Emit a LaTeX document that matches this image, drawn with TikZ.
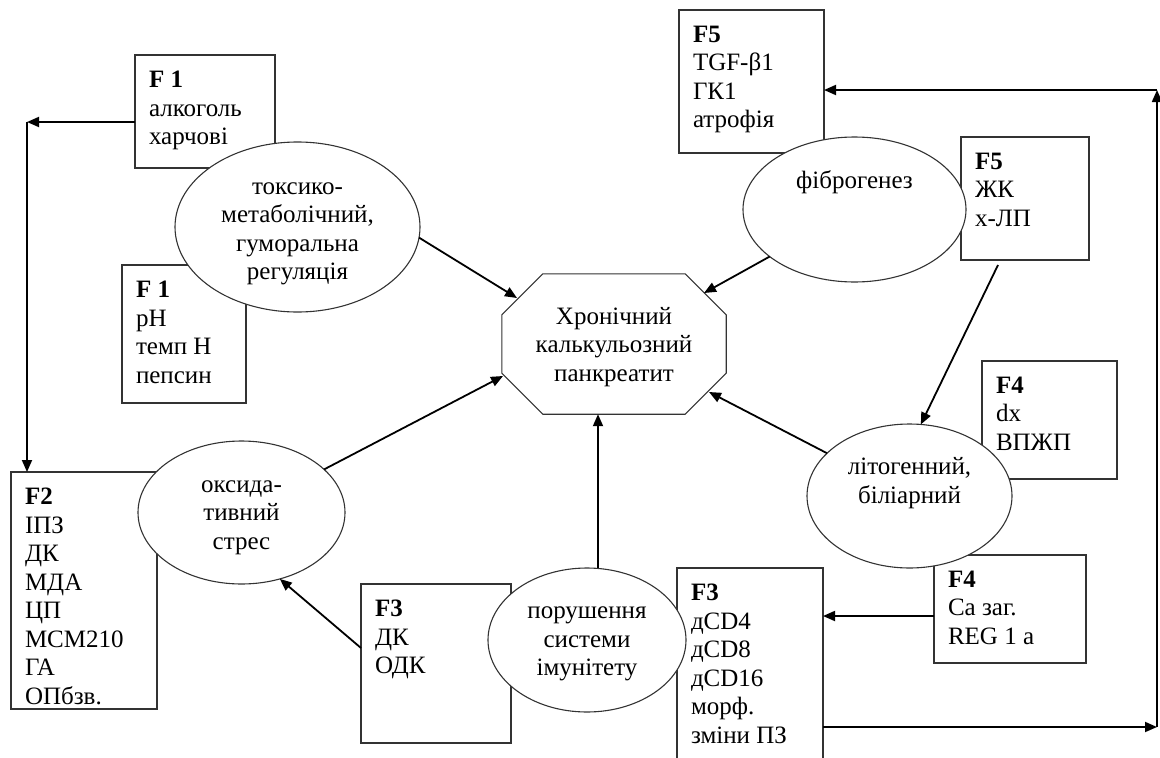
\documentclass[tikz,border=0pt]{standalone}
\usepackage{fontspec}
\setmainfont{Liberation Serif}
\usetikzlibrary{arrows.meta,calc,shapes.geometric}
\begin{document}
\begin{tikzpicture}[x=1pt,y=-1pt,
  every node/.style={font=\fontsize{25}{28.5}\selectfont},
  fbox/.style 2 args={draw=black!80, line width=1.1pt, minimum width=#1, minimum height=#2, anchor=north west, inner sep=0pt, outer sep=0pt},
  ftext/.style={anchor=north west, inner sep=0pt, outer sep=0pt, xshift=14pt, yshift=-16pt, align=left},
  ell/.style 2 args={ellipse, draw=black!80, fill=white, line width=1.1pt, minimum width=#1, minimum height=#2, inner sep=0pt, outer sep=0pt},
  etext/.style={anchor=center, inner sep=0pt, align=center},
  arr/.style={line width=1.8pt, -{Triangle[length=12pt,width=10pt]}},
]
\useasboundingbox (0,0) rectangle (1160,758);
\clip (0,0) rectangle (1160,758);

% boxes
\node[fbox={140pt}{113pt}, label={[ftext]north west:{\textbf{F 1}\\алкоголь\\харчові}}] (f1a) at (135,55) {};
\node[fbox={124pt}{138pt}, label={[ftext]north west:{\textbf{F 1}\\pH\\темп H\\пепсин}}] (f1b) at (122,265) {};
\node[fbox={146pt}{237pt}, label={[ftext]north west:{\textbf{F2}\\ІПЗ\\ДК\\МДА\\ЦП\\МСМ210\\ГА\\ОПбзв.}}] (f2) at (11,472) {};
\node[fbox={150pt}{159pt}, label={[ftext]north west:{\textbf{F3}\\ДК\\ОДК}}] (f3a) at (361,584) {};
\node[fbox={146pt}{210pt}, label={[ftext]north west:{\textbf{F3}\\дCD4\\дCD8\\дCD16\\морф.\\зміни ПЗ}}] (f3b) at (677,568) {};
\node[fbox={152pt}{108pt}, label={[ftext]north west:{\textbf{F4}\\Ca заг.\\REG 1 a}}] (f4a) at (934,555) {};
\node[fbox={135pt}{118pt}, label={[ftext]north west:{\textbf{F4}\\dx\\ВПЖП}}] (f4b) at (982,361) {};
\node[fbox={145pt}{143pt}, label={[ftext]north west:{\textbf{F5}\\TGF-β1\\ГК1\\атрофія}}] (f5a) at (679,10) {};
\node[fbox={128pt}{123pt}, label={[ftext]north west:{\textbf{F5}\\ЖК\\х-ЛП}}] (f5b) at (961,137) {};

% ellipses
\node[ell={245pt}{170pt}, label={[etext, yshift=-7pt]center:{токсико-\\метаболічний,\\гуморальна\\регуляція}}] (tox) at (297.5,227) {};
\node[ell={207pt}{143pt}, label={[etext, yshift=-5pt]center:{оксида-\\тивний\\стрес}}] (oxi) at (241.5,512.5) {};
\node[ell={198pt}{144pt}, label={[etext, yshift=-4pt]center:{порушення\\системи\\імунітету}}] (imm) at (587,640) {};
\node[ell={205pt}{144pt}, label={[etext, yshift=13pt]center:{літогенний,\\біліарний}}] (lit) at (909.5,496) {};
\node[ell={223pt}{145pt}, label={[etext, yshift=27pt]center:{фіброгенез}}] (fib) at (854.5,209.5) {};

% central octagon
\node[minimum width=224pt, minimum height=140pt, inner sep=0pt, label={[etext, yshift=-3pt]center:{Хронічний\\калькульозний\\панкреатит}}] (oct) at (614,344) {};
\draw[draw=black!80, line width=1.1pt]
  ($(oct.north west)+(41,0)$) -- ($(oct.north east)+(-41,0)$) -- ($(oct.north east)+(0,41)$)
  -- ($(oct.south east)+(0,-41)$) -- ($(oct.south east)+(-41,0)$) -- ($(oct.south west)+(41,0)$)
  -- ($(oct.south west)+(0,-41)$) -- ($(oct.north west)+(0,41)$) -- cycle;

% arrow end points on the octagon
\coordinate (octTL) at (517,298);
\coordinate (octBL) at (503,376);
\coordinate (octTR) at (704,293);
\coordinate (octBR) at (709,392);
\coordinate (immtop) at ($(imm.north)+(11,0.4)$);

\draw[arr] (tox.-5) -- (octTL);
\draw[arr] (oxi) -- (octBL);
\draw[arr] (fib) -- (octTR);
\draw[arr] (lit) -- (octBR);
\draw[arr] (immtop) -- (immtop |- oct.south);

\coordinate (r0) at (300,648);
\draw[arr] (f3a.west |- r0) -- (oxi.-60);
\draw[arr] ($(f5b.south west)+(37,5)$) -- (lit.81);

\coordinate (r1) at (900,616);
\draw[arr] (f4a.west |- r1) -- (f3b.east |- r1);

% left loop
\coordinate (c1) at (27,122);
\draw[arr] (f1a.west |- c1) -- (c1);
\draw[arr] (c1) -- (c1 |- f2.north);

% right loop
\coordinate (c2) at (1157,727);
\coordinate (c3) at (1157,90);
\draw[arr] (f3b.east |- c2) -- (c2);
\draw[arr] (c2) -- (c3);
\draw[arr] (c3) -- (f5a.east |- c3);
\end{tikzpicture}
\end{document}
